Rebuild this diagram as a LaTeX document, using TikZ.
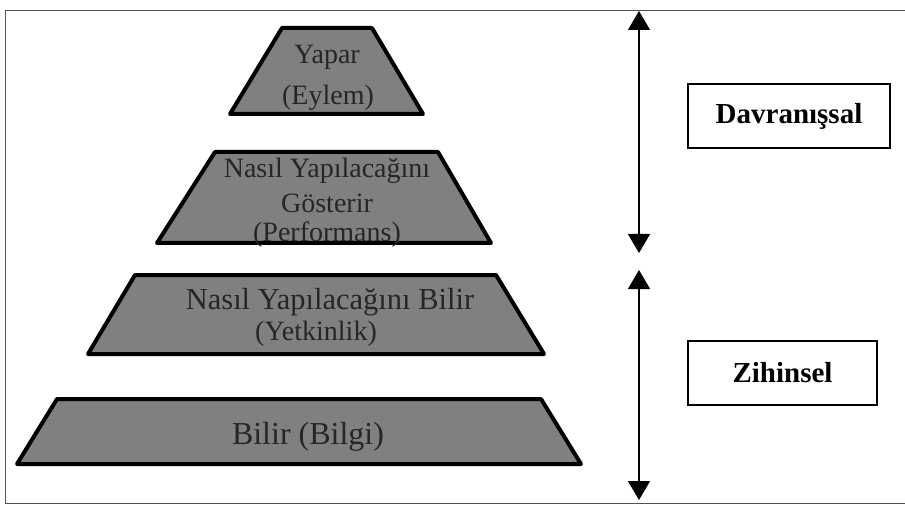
\documentclass[tikz,border=0pt]{standalone}
\usepackage{fontspec}
\setmainfont{Liberation Serif}
\usetikzlibrary{arrows.meta}
\definecolor{lvlgray}{HTML}{808080}
\definecolor{framegray}{HTML}{505050}
\begin{document}
\begin{tikzpicture}[x=1pt,y=-1pt,
  level/.style={draw=black,line width=4pt,fill=lvlgray,line join=round},
  lbl/.style={font=\fontsize{28}{32}\selectfont,inner sep=0pt,text=black!85},
  biglbl/.style={lbl,font=\fontsize{30.5}{34}\selectfont},
  hugelbl/.style={lbl,font=\fontsize{32}{36}\selectfont},
  catbox/.style={draw=black,line width=1.5pt,font=\fontsize{29}{34}\selectfont\bfseries,inner sep=0pt},
  dbl/.style={{Triangle[length=19pt,width=22pt]}-{Triangle[length=19pt,width=22pt]},line width=1.3pt}]
\useasboundingbox (0,0) rectangle (905,505);
% outer frame
\draw[framegray,line width=1pt] (910,11) -- (5,11) -- (5,503) -- (910,503);
% levels
\draw[level] (282,28) -- (372,28) -- (423,114) -- (230,114) -- cycle;
\draw[level] (215,152) -- (438,152) -- (491,243) -- (157,243) -- cycle;
\draw[level] (135,275) -- (496,275) -- (544,354) -- (88,354) -- cycle;
\draw[level] (57,399) -- (541,399) -- (581,464) -- (17,464) -- cycle;
% labels
\node[lbl] (l1a) at (327,57) {Yapar};
\node[lbl] (l1b) at (328,98) {(Eylem)};
\node[lbl] (l2a) at (327,171) {Nasıl Yapılacağını};
\node[lbl] (l2b) at (327,203) {Gösterir};
\node[lbl] (l2c) at (327,235) {(Performans)};
\node[biglbl] (l3a) at (330,302) {Nasıl Yapılacağını Bilir};
\node[lbl] (l3b) at (316,334) {(Yetkinlik)};
\node[hugelbl] (l4a) at (308,437) {Bilir (Bilgi)};
% category boxes
\node[catbox,minimum width=202pt,minimum height=64pt] (dav) at (789,116) {Davranışsal};
\node[catbox,minimum width=189pt,minimum height=64pt] (zih) at (782.5,373) {Zihinsel};
% arrows
\coordinate (a1t) at (639,11);
\coordinate (a1b) at (639,253);
\coordinate (a2t) at (639,270);
\coordinate (a2b) at (639,500);
\draw[dbl] (a1t) -- (a1b);
\draw[dbl] (a2t) -- (a2b);
\end{tikzpicture}
\end{document}
